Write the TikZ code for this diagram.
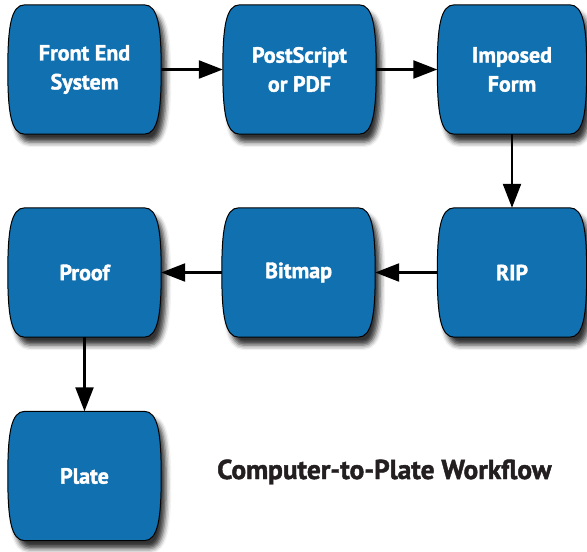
\documentclass[tikz,border=0pt]{standalone}
\usepackage{fontspec}
\setmainfont{PT Sans}[BoldFeatures={FakeBold=1.6}]
\usetikzlibrary{arrows.meta,calc,shadows.blur,backgrounds}
\definecolor{boxblue}{RGB}{16,112,176}
\definecolor{titlegray}{RGB}{35,31,32}
\begin{document}
\begin{tikzpicture}[x=1pt,y=-1pt,
  stepnode/.style={minimum width=153pt, minimum height=129pt, inner sep=0pt,
    text=white, font=\bfseries\fontsize{22}{29}\selectfont, align=center},
  link/.style={line width=2.3pt, -{Triangle[length=24pt,width=18pt]}},
  barrel/.style={draw=black, line width=1pt, fill=boxblue,
    blur shadow={shadow xshift=5pt, shadow yshift=-8pt, shadow blur radius=5pt, shadow opacity=80}},
  titletext/.style={text=titlegray, font=\bfseries\fontsize{27.3}{30}\selectfont, inner sep=0pt}]
\useasboundingbox (0,0) rectangle (587,552);

\node[stepnode] (fe)  at (84.5,69.5)  {Front End\\System};
\node[stepnode] (ps)  at (299.5,69.5) {PostScript\\or PDF};
\node[stepnode, minimum width=149pt] (im)  at (512,69.5)   {Imposed\\Form};
\node[stepnode, minimum width=149pt] (rip) at (512,272.5)  {RIP};
\node[stepnode] (bm)  at (298.5,272.5) {Bitmap};
\node[stepnode] (pf)  at (84.5,272.5) {Proof};
\node[stepnode] (pl)  at (84.5,476)   {Plate};

\node[titletext, anchor=base west] (ttl) at (217,479) {Computer-to-Plate Workflow};

\begin{scope}[on background layer]
\foreach \n in {fe,ps,im,rip,bm,pf,pl} {
  \path[barrel]
    ($(\n.north west)+(17,0)$) -- ($(\n.north east)+(-17,0)$)
    .. controls ($(\n.north east)+(-3,0)$) and ($(\n.east)+(0,-42)$) .. (\n.east)
    .. controls ($(\n.east)+(0,42)$) and ($(\n.south east)+(-3,0)$) .. ($(\n.south east)+(-17,0)$)
    -- ($(\n.south west)+(17,0)$)
    .. controls ($(\n.south west)+(3,0)$) and ($(\n.west)+(0,42)$) .. (\n.west)
    .. controls ($(\n.west)+(0,-42)$) and ($(\n.north west)+(3,0)$) .. ($(\n.north west)+(17,0)$)
    -- cycle;
}
\end{scope}

\draw[link] (fe.east) -- (ps.west);
\draw[link] (ps.east) -- (im.west);
\draw[link] (im.south) -- (rip.north);
\draw[link] (rip.west) -- (bm.east);
\draw[link] (bm.west) -- (pf.east);
\draw[link] (pf.south) -- (pl.north);
\end{tikzpicture}
\end{document}
